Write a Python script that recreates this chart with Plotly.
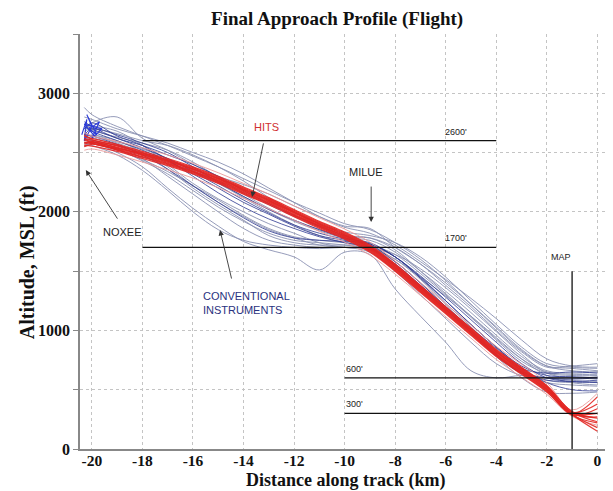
import plotly.graph_objects as go

# Distance along track (km) sample positions shared by all flight traces
X = [-20.3, -20, -19, -18, -17, -16, -15, -14, -13, -12, -11, -10, -9, -8, -7, -6, -5, -4, -3, -2, -1, 0]

# Conventional-instrument flights (altitude, ft) - light slate lines
conv_gray = [
    [2880, 2820, 2720, 2640, 2560, 2470, 2380, 2280, 2180, 2080, 1990, 1900, 1850, 1740, 1600, 1420, 1220, 1020, 830, 700, 680, 660],
    [2700, 2750, 2800, 2620, 2520, 2400, 2300, 2230, 2150, 2050, 1960, 1880, 1860, 1700, 1560, 1380, 1200, 1000, 820, 690, 700, 720],
    [2600, 2620, 2560, 2450, 2300, 2150, 2000, 1860, 1760, 1720, 1700, 1700, 1660, 1500, 1300, 1100, 900, 720, 620, 600, 600, 590],
    [2550, 2580, 2500, 2380, 2200, 2030, 1880, 1750, 1680, 1620, 1510, 1660, 1640, 1350, 1120, 900, 660, 600, 620, 600, 580, 560],
    [2620, 2650, 2580, 2500, 2380, 2220, 2080, 1960, 1850, 1780, 1720, 1700, 1680, 1560, 1380, 1180, 980, 780, 640, 560, 540, 530],
    [2680, 2700, 2660, 2600, 2560, 2480, 2380, 2260, 2120, 2000, 1900, 1830, 1800, 1740, 1620, 1450, 1250, 1050, 860, 720, 690, 680],
    [2580, 2600, 2530, 2430, 2320, 2180, 2040, 1920, 1820, 1760, 1740, 1720, 1690, 1600, 1450, 1290, 1120, 940, 760, 620, 560, 540],
    [2640, 2600, 2540, 2480, 2420, 2340, 2240, 2130, 2020, 1920, 1840, 1780, 1760, 1660, 1500, 1330, 1150, 960, 780, 660, 640, 650],
    [2560, 2580, 2520, 2440, 2340, 2220, 2100, 1970, 1860, 1790, 1760, 1740, 1720, 1640, 1480, 1300, 1110, 920, 740, 640, 620, 620],
    [2800, 2780, 2700, 2640, 2580, 2500, 2420, 2320, 2200, 2080, 1960, 1870, 1820, 1720, 1580, 1430, 1270, 1100, 920, 760, 700, 690],
    [2600, 2640, 2600, 2500, 2360, 2200, 2060, 1930, 1800, 1740, 1720, 1720, 1710, 1620, 1440, 1230, 1030, 830, 660, 580, 560, 570],
    [2700, 2720, 2680, 2560, 2400, 2240, 2110, 2000, 1900, 1820, 1740, 1700, 1690, 1640, 1520, 1360, 1180, 990, 800, 640, 600, 610],
    [2620, 2600, 2560, 2500, 2440, 2360, 2260, 2160, 2060, 1960, 1870, 1790, 1780, 1700, 1560, 1400, 1220, 1030, 840, 700, 660, 650],
    [2720, 2690, 2630, 2580, 2520, 2420, 2290, 2150, 2030, 1930, 1850, 1800, 1780, 1680, 1500, 1310, 1120, 930, 760, 650, 630, 630],
    [2580, 2560, 2480, 2350, 2180, 2000, 1850, 1760, 1720, 1700, 1690, 1700, 1690, 1580, 1400, 1200, 990, 790, 640, 600, 600, 600],
    [2660, 2640, 2590, 2530, 2450, 2350, 2240, 2120, 2000, 1890, 1800, 1740, 1700, 1600, 1430, 1220, 1000, 780, 600, 480, 470, 480],
]

# Conventional-instrument flights - dark navy lines
conv_navy = [
    [2650, 2700, 2650, 2580, 2500, 2380, 2250, 2130, 2020, 1930, 1850, 1780, 1730, 1620, 1440, 1250, 1050, 860, 700, 620, 610, 600],
    [2720, 2680, 2600, 2520, 2430, 2320, 2200, 2080, 1980, 1880, 1800, 1760, 1720, 1580, 1400, 1200, 1000, 800, 650, 600, 590, 600],
    [2760, 2720, 2620, 2560, 2480, 2400, 2300, 2180, 2070, 1970, 1880, 1800, 1700, 1560, 1380, 1200, 1020, 850, 680, 640, 650, 640],
    [2700, 2750, 2640, 2560, 2440, 2300, 2160, 2040, 1940, 1860, 1790, 1740, 1700, 1550, 1370, 1180, 980, 790, 640, 580, 570, 580],
    [2740, 2700, 2620, 2540, 2450, 2340, 2220, 2100, 1990, 1890, 1820, 1770, 1740, 1620, 1460, 1280, 1090, 900, 720, 600, 570, 560],
    [2650, 2640, 2570, 2480, 2360, 2220, 2080, 1950, 1840, 1780, 1760, 1750, 1730, 1620, 1450, 1250, 1050, 860, 680, 560, 500, 490],
]

# Tangled start cluster near NOXEE
tangle_x = [-20.4, -20.2, -20.3, -20.0, -20.2, -19.8, -20.1, -19.7, -20.0, -19.6, -20.3, -19.9]
tangle_y = [2650, 2780, 2600, 2720, 2820, 2650, 2700, 2760, 2620, 2700, 2740, 2640]

# HITS flights (altitude, ft)
hits_red = [
    [2615, 2605, 2555, 2495, 2435, 2365, 2285, 2195, 2105, 2005, 1905, 1815, 1705, 1545, 1365, 1185, 1005, 825, 675, 525, 310, 380],
    [2585, 2575, 2525, 2465, 2405, 2335, 2255, 2165, 2075, 1975, 1875, 1785, 1675, 1515, 1335, 1155, 975, 795, 645, 495, 290, 150],
    [2640, 2620, 2570, 2510, 2450, 2380, 2300, 2210, 2120, 2020, 1920, 1830, 1720, 1560, 1380, 1200, 1020, 840, 690, 535, 315, 260],
    [2560, 2555, 2510, 2450, 2390, 2320, 2240, 2150, 2060, 1960, 1860, 1770, 1660, 1500, 1320, 1140, 960, 780, 630, 480, 285, 220],
    [2600, 2595, 2545, 2485, 2425, 2355, 2275, 2185, 2095, 1995, 1895, 1805, 1695, 1535, 1355, 1175, 995, 815, 665, 510, 300, 440],
    [2620, 2580, 2530, 2475, 2410, 2340, 2262, 2172, 2082, 1982, 1882, 1792, 1682, 1522, 1342, 1162, 982, 802, 652, 502, 295, 180],
    [2550, 2570, 2535, 2490, 2430, 2360, 2280, 2190, 2098, 1998, 1898, 1808, 1698, 1538, 1358, 1178, 998, 818, 668, 518, 302, 300],
    [2650, 2610, 2560, 2500, 2440, 2372, 2292, 2202, 2112, 2012, 1912, 1822, 1712, 1552, 1372, 1192, 1012, 832, 682, 530, 312, 230],
    [2580, 2590, 2520, 2460, 2398, 2328, 2248, 2158, 2068, 1968, 1868, 1778, 1668, 1508, 1328, 1148, 968, 788, 638, 488, 288, 340],
    [2570, 2585, 2540, 2482, 2418, 2345, 2268, 2178, 2088, 1990, 1888, 1798, 1688, 1528, 1348, 1168, 988, 808, 658, 505, 298, 270],
]
hits_pink = [
    [2520, 2530, 2480, 2420, 2355, 2285, 2205, 2115, 2025, 1930, 1835, 1745, 1635, 1475, 1295, 1115, 935, 755, 605, 460, 275, 200],
    [2670, 2640, 2595, 2540, 2480, 2410, 2330, 2240, 2150, 2050, 1950, 1855, 1745, 1585, 1405, 1225, 1045, 865, 715, 560, 330, 470],
]

# Reference altitude levels
ref_levels = [2600, 1700, 600, 300]
ref_start = [-18, -18, -10, -10]
ref_end = [-4, -4, 0, 0]
ref_labels = ["2600'", "1700'", "600'", "300'"]
ref_label_x = [-5.6, -5.6, -9.6, -9.6]

map_x = [-1, -1]
map_y = [0, 1500]

x_ticks = [-20, -18, -16, -14, -12, -10, -8, -6, -4, -2, 0]
y_ticks = [0, 1000, 2000, 3000]

fig = go.Figure()

for ys in conv_gray:
    fig.add_trace(go.Scatter(x=X, y=ys, mode="lines", line=dict(color="#8a91b2", width=0.9, shape="spline"),
                             showlegend=False, hoverinfo="skip"))
for ys in conv_navy:
    fig.add_trace(go.Scatter(x=X, y=ys, mode="lines", line=dict(color="#2c3790", width=0.8, shape="spline"),
                             showlegend=False, hoverinfo="skip"))
fig.add_trace(go.Scatter(x=tangle_x, y=tangle_y, mode="lines", line=dict(color="#2a3ad8", width=1.1),
                         showlegend=False, hoverinfo="skip"))
for ys in hits_pink:
    fig.add_trace(go.Scatter(x=X, y=ys, mode="lines", line=dict(color="#ea9a9a", width=0.9, shape="spline"),
                             showlegend=False, hoverinfo="skip"))
for ys in hits_red:
    fig.add_trace(go.Scatter(x=X, y=ys, mode="lines", line=dict(color="rgba(226,38,34,0.9)", width=1.25, shape="spline"),
                             showlegend=False, hoverinfo="skip"))

for lev, x0, x1 in zip(ref_levels, ref_start, ref_end):
    fig.add_trace(go.Scatter(x=[x0, x1], y=[lev, lev], mode="lines", line=dict(color="#111111", width=1.3),
                             showlegend=False, hoverinfo="skip"))
fig.add_trace(go.Scatter(x=map_x, y=map_y, mode="lines", line=dict(color="#111111", width=1.3),
                         showlegend=False, hoverinfo="skip"))

small = dict(family="Liberation Sans Narrow, Liberation Sans", size=9, color="#222222")
for lab, lx, lev in zip(ref_labels, ref_label_x, ref_levels):
    fig.add_annotation(x=lx, y=lev, text=lab, showarrow=False, yshift=9, font=small)
fig.add_annotation(x=-1.45, y=1500, text="MAP", showarrow=False, yshift=14, font=small)

lab_font = dict(family="Liberation Sans", size=11, color="#222222")
fig.add_annotation(x=-13.1, y=2715, text="HITS", showarrow=False, font=dict(family="Liberation Sans", size=11, color="#d03030"))
fig.add_annotation(x=-9.15, y=2335, text="MILUE", showarrow=False, font=lab_font)
fig.add_annotation(x=-18.8, y=1830, text="NOXEE", showarrow=False, font=lab_font)
fig.add_annotation(x=-15.7, y=1230, text="CONVENTIONAL<br>INSTRUMENTS", showarrow=False, align="left", xanchor="left",
                   font=dict(family="Liberation Sans", size=11, color="#2a3280"))

arrows = [
    # (head x, head y, tail x, tail y)
    (-13.66, 2125, -13.2, 2590),
    (-8.95, 1914, -8.95, 2226),
    (-20.24, 2352, -18.95, 1930),
    (-14.93, 1847, -14.46, 1425),
]
for hx, hy, tx, ty in arrows:
    fig.add_annotation(x=hx, y=hy, ax=tx, ay=ty, xref="x", yref="y", axref="x", ayref="y", text="",
                       showarrow=True, arrowhead=2, arrowsize=1.2, arrowwidth=0.9, arrowcolor="#333333")

serif = "Liberation Serif"
fig.add_annotation(xref="paper", yref="paper", x=0.5, y=-0.075, text="<b>Distance along track (km)</b>",
                   showarrow=False, xanchor="center", yanchor="middle",
                   font=dict(family=serif, size=18, color="#111111"))
fig.add_annotation(xref="paper", yref="paper", x=-0.1, y=0.45, text="<b>Altitude, MSL (ft)</b>", textangle=-90,
                   showarrow=False, xanchor="center", yanchor="middle",
                   font=dict(family=serif, size=20, color="#111111"))

axis_font = dict(family=serif, size=15.5, color="#111111")
fig.update_layout(
    width=605, height=483,
    margin=dict(l=72, r=3, t=26, b=42),
    paper_bgcolor="white", plot_bgcolor="white",
    title=dict(text="<b>Final Approach Profile (Flight)</b>", x=0.544, xanchor="center", y=0.979, yanchor="middle",
               font=dict(family=serif, size=19, color="#111111")),
    xaxis=dict(range=[-20.47, 0.5], tickvals=x_ticks, ticktext=[f"<b>{v}</b>" for v in x_ticks],
               tickfont=axis_font, showgrid=True, gridcolor="#c4c4c4", griddash="dot", gridwidth=1,
               zeroline=False, showline=True, linecolor="#888888", linewidth=1.5, ticks="",
               ticklabelstandoff=-3),
    yaxis=dict(range=[0, 3500], tickvals=y_ticks, ticktext=[f"<b>{v}</b>" for v in y_ticks],
               tickfont=dict(family=serif, size=16, color="#111111"), showgrid=True, gridcolor="#c4c4c4",
               griddash="dot", gridwidth=1,
               minor=dict(dtick=500, showgrid=True, gridcolor="#c4c4c4", griddash="dot", ticks="outside", ticklen=5,
                          tickcolor="#888888"),
               zeroline=False, showline=True, linecolor="#888888", linewidth=1.5, ticks="outside", ticklen=5,
               tickcolor="#888888"),
)

fig.write_html("out.html")
